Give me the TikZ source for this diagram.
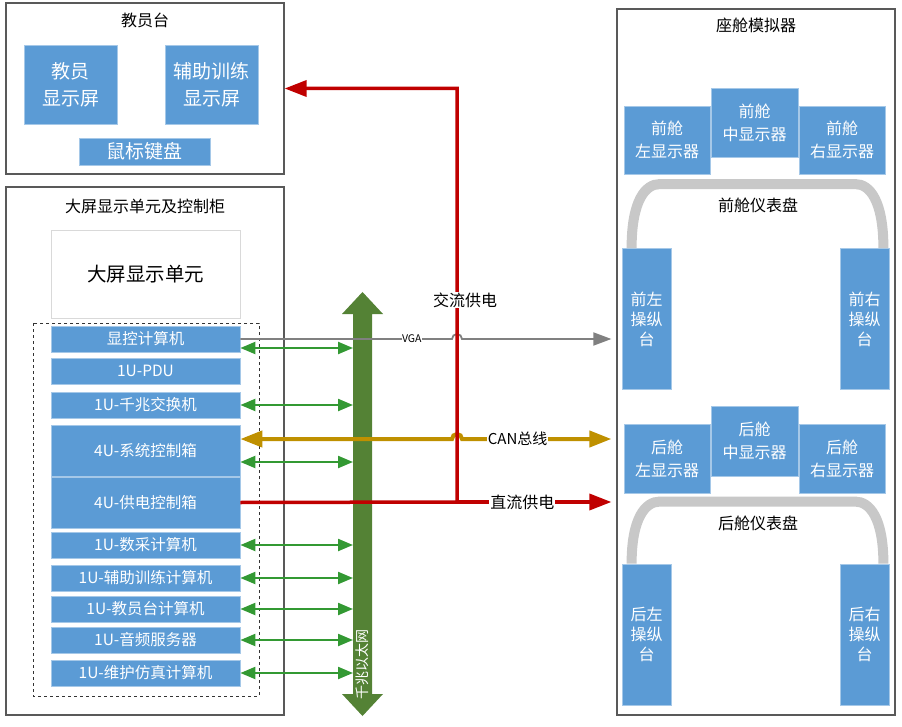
\documentclass[tikz,border=0pt]{standalone}
\usepackage{fontspec}
\setmainfont{Noto Sans CJK SC}
\usepackage{tikz}
\usetikzlibrary{
    arrows.meta,
    positioning,
    calc
}
\definecolor{unitblue}{HTML}{5B9BD5}
\definecolor{busgreen}{HTML}{548235}
\definecolor{netgreen}{HTML}{339933}
\definecolor{cangold}{HTML}{BF9000}
\definecolor{powerred}{HTML}{C00000}
\definecolor{dashgray}{HTML}{C8C8C8}
\tikzset{
    panel/.style={
        draw=black!65,
        line width=1.2pt,
        fill=white
    }
}
\tikzset{
    unit/.style={
        fill=unitblue,
        draw=unitblue!55!white,
        line width=0.8pt,
        text=white,
        align=center,
        inner sep=0pt
    }
}
\tikzset{
    rackunit/.style={
        unit,
        minimum width=189pt,
        minimum height=26pt,
        font=\fontsize{15.5}{18}\selectfont
    }
}
\tikzset{
    display/.style={
        unit,
        minimum width=86pt,
        minimum height=68pt,
        font=\fontsize{16}{23}\selectfont
    }
}
\tikzset{
    console/.style={
        unit,
        minimum width=49pt,
        minimum height=141pt,
        font=\fontsize{16}{20}\selectfont
    }
}
\tikzset{
    title/.style={
        font=\fontsize{16}{18}\selectfont
    }
}
\tikzset{
    linelabel/.style={
        fill=white,
        inner sep=1pt,
        text=black,
        font=\fontsize{16}{18}\selectfont
    }
}
\tikzset{
    dashboard/.style={
        draw=dashgray,
        line width=10pt
    }
}
\tikzset{
    netlink/.style={
        draw=netgreen,
        line width=2.2pt,
        {Triangle[length=15pt,width=12pt]}-{Triangle[length=15pt,width=12pt]}
    }
}
\tikzset{
    vga/.style={
        draw=black!50,
        line width=1.8pt,
        -{Triangle[length=18pt,width=13pt]},
        shorten >=5pt
    }
}
\tikzset{
    canbus/.style={
        draw=cangold,
        line width=4pt,
        {Triangle[length=22pt,width=16pt]}-{Triangle[length=22pt,width=16pt]},
        shorten >=5pt
    }
}
\tikzset{
    power/.style={
        draw=powerred,
        line width=3.5pt
    }
}

\begin{document}
\begin{tikzpicture}[
    x=1pt, y=-1pt
]
\useasboundingbox (0,0) rectangle (902,727);

% =========================================================
% Panels
% =========================================================

\node[panel, minimum width=278pt, minimum height=171pt] (jyt) at (145,88.5) {};
\node[panel, minimum width=278pt, minimum height=528pt] (kzg) at (145,451) {};
\node[panel, minimum width=278pt, minimum height=706pt] (cabin) at (756,362) {};

\node[title] at (145,20) {教员台};
\node[title] at (145,206) {大屏显示单元及控制柜};
\node[title] at (756,25) {座舱模拟器};


% =========================================================
% Instructor station
% =========================================================

\node[unit, minimum width=93pt, minimum height=79pt,
    font=\fontsize{19}{27}\selectfont] (jsp) at (70.5,84.5) {教员\\显示屏};
\node[unit, minimum width=93pt, minimum height=79pt,
    font=\fontsize{19}{27}\selectfont] (fsp) at (211.5,84.5) {辅助训练\\显示屏};
\node[unit, minimum width=131pt, minimum height=27pt,
    font=\fontsize{19}{21}\selectfont] (sbjp) at (144.5,151.5) {鼠标键盘};


% =========================================================
% Cabinet
% =========================================================

\node[draw=black!15, fill=white, minimum width=189pt, minimum height=88pt,
    font=\fontsize{19.5}{22}\selectfont] (dp) at (145.5,274) {大屏显示单元};

\draw[dashed, black!80] (33,323) rectangle (259,696);

\node[rackunit] (xk) at (145.5,339) {显控计算机};
\node[rackunit] (pdu) at (145.5,371) {1U-PDU};
\node[rackunit] (jhj) at (145.5,405) {1U-千兆交换机};
\node[rackunit, minimum height=51pt] (sk) at (145.5,450.5) {4U-系统控制箱};
\node[rackunit, minimum height=51pt] (gd) at (145.5,502.5) {4U-供电控制箱};
\node[rackunit] (sc) at (145.5,545) {1U-数采计算机};
\node[rackunit] (fz) at (145.5,578) {1U-辅助训练计算机};
\node[rackunit] (jy) at (145.5,609) {1U-教员台计算机};
\node[rackunit] (yp) at (145.5,640) {1U-音频服务器};
\node[rackunit] (wh) at (145.5,673) {1U-维护仿真计算机};


% =========================================================
% Cockpit simulator
% =========================================================

\node[console] (qzc) at (646.5,319) {前左\\操纵\\台};
\node[console] (qyc) at (864.5,319) {前右\\操纵\\台};
\coordinate (qdl) at ([xshift=10pt]qzc.north west);
\coordinate (qdr) at ([xshift=-6pt]qyc.north east);
\coordinate (qtl) at ($(qdl)+(28,-64)$);
\coordinate (qtr) at ($(qdr)+(-28,-64)$);
\draw[dashboard] (qdl) .. controls +(0,-48) and +(-14,0) .. (qtl)
    -- (qtr) .. controls +(14,0) and +(0,-48) .. (qdr);
\node[title] at (758,205) {前舱仪表盘};

\node[display] (qzx) at (667,140) {前舱\\左显示器};
\node[display, minimum width=87pt, minimum height=69pt] (qzz) at (754.5,122.5) {前舱\\中显示器};
\node[display] (qyx) at (842,140) {前舱\\右显示器};

\node[console] (hzc) at (646.5,634.5) {后左\\操纵\\台};
\node[console] (hyc) at (864.5,634.5) {后右\\操纵\\台};
\coordinate (hdl) at ([xshift=10pt]hzc.north west);
\coordinate (hdr) at ([xshift=-6pt]hyc.north east);
\coordinate (htl) at ($(hdl)+(28,-62)$);
\coordinate (htr) at ($(hdr)+(-28,-62)$);
\draw[dashboard] (hdl) .. controls +(0,-46) and +(-14,0) .. (htl)
    -- (htr) .. controls +(14,0) and +(0,-46) .. (hdr);
\node[title] at (758,523) {后舱仪表盘};

\node[display, minimum height=69pt] (hzx) at (667,458.5) {后舱\\左显示器};
\node[display, minimum width=87pt, minimum height=70pt] (hzz) at (754.5,441) {后舱\\中显示器};
\node[display, minimum height=69pt] (hyx) at (842,458.5) {后舱\\右显示器};


% =========================================================
% Gigabit ethernet bus
% =========================================================

\coordinate (bus) at (362.5,504);
\coordinate (busw) at (353,504);
\fill[busgreen] (bus) ++(0,-212) -- ++(20.5,22) -- ++(-11,0) -- ++(0,380)
    -- ++(11,0) -- ++(-20.5,22) -- ++(-20.5,-22) -- ++(11,0)
    -- ++(0,-380) -- ++(-11,0) -- cycle;
\node[rotate=90, text=white, font=\fontsize{14}{16}\selectfont] (buslabel)
    at (362.5,664) {千兆以太网};

\coordinate (xknet) at ([yshift=-9pt]xk.east);
\coordinate (skcan) at ([yshift=11.5pt]sk.east);
\coordinate (sknet) at ([yshift=-11.5pt]sk.east);

\draw[netlink] (xknet) -- (xknet -| busw);
\foreach \u in {jhj, sc, fz, jy, yp, wh} {
    \draw[netlink] (\u.east) -- (\u.east -| busw);
}
\draw[netlink] (sknet) -- (sknet -| busw);


% =========================================================
% VGA, CAN, power
% =========================================================

\coordinate (acbend) at (457,502);

\draw[vga] (xk.east) -- node[pos=0.81, fill=white, inner sep=0.5pt,
        text=black, font=\fontsize{10.5}{12}\selectfont] {VGA}
    ($(xk.east -| acbend)+(-5,0)$) arc[start angle=180, end angle=0, radius=5pt]
    -- (xk.east -| cabin.west);

\draw[canbus] (skcan) -- ($(skcan -| acbend)+(-5,0)$)
    arc[start angle=180, end angle=0, radius=5pt]
    -- node[pos=0.36, linelabel, font=\fontsize{15}{17}\selectfont] {CAN总线}
    (skcan -| cabin.west);

\draw[power, -{Triangle[length=22pt,width=16pt]}]
    (gd.east) -- (acbend) -- (acbend |- jyt.east) -- (jyt.east);
\draw[power, -{Triangle[length=22pt,width=16pt]}, shorten >=5pt]
    (acbend) -- node[pos=0.41, linelabel] {直流供电} (acbend -| cabin.west);

\node[linelabel] (aclabel) at (465,300) {交流供电};

\end{tikzpicture}
\end{document}
